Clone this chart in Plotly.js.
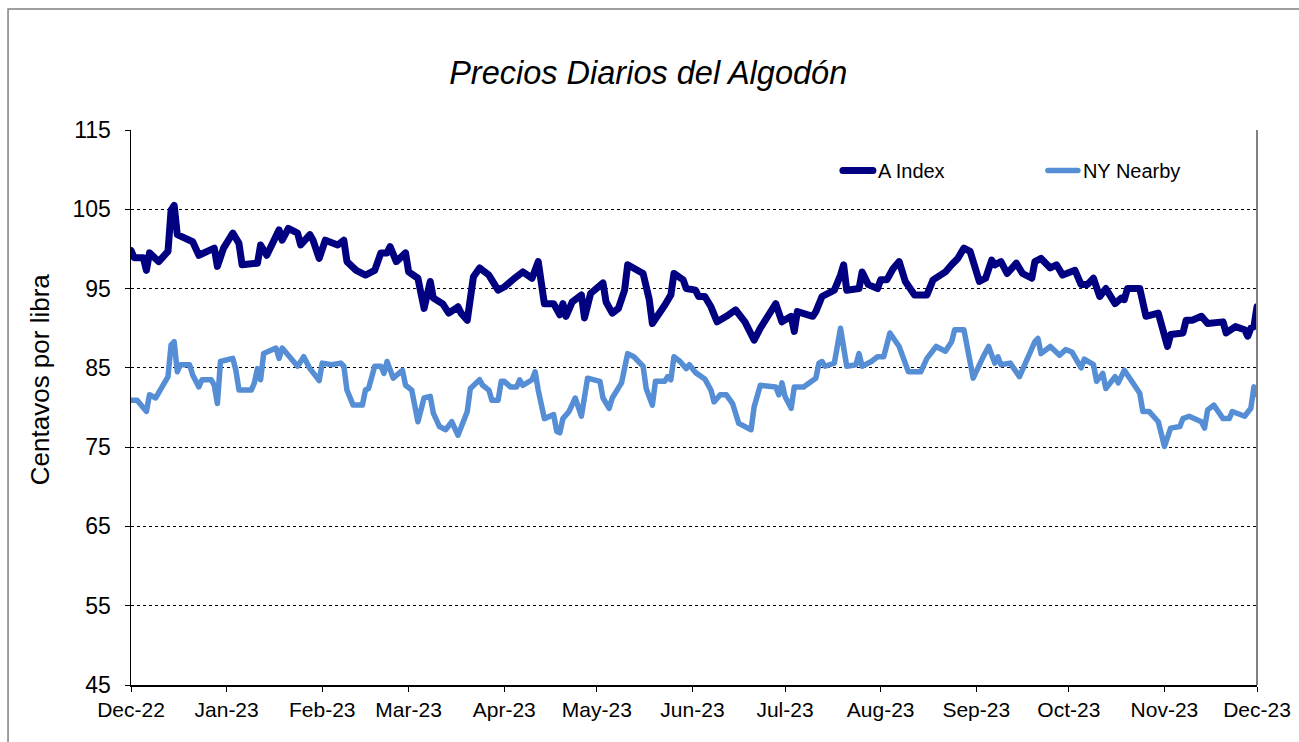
<!DOCTYPE html>
<html>
<head>
<meta charset="utf-8">
<script src="https://cdn.plot.ly/plotly-3.0.1.min.js"></script>
<style>
  html, body { margin: 0; padding: 0; background: #ffffff; }
  #chart { width: 1299px; height: 742px; }
  #chart path.js-line { stroke-linejoin: round !important; stroke-linecap: round !important; }
</style>
</head>
<body>
<div id="chart"></div>
<script>
// ---- Data ----
const aIndexDates = [
  "2022-12-01","2022-12-02","2022-12-05","2022-12-06","2022-12-07","2022-12-10","2022-12-13","2022-12-14","2022-12-15","2022-12-16","2022-12-21","2022-12-23","2022-12-28","2022-12-29","2022-12-31",
  "2023-01-03","2023-01-05","2023-01-06","2023-01-11","2023-01-12","2023-01-14","2023-01-18","2023-01-19","2023-01-21","2023-01-24","2023-01-25","2023-01-28","2023-01-29","2023-01-31",
  "2023-02-02","2023-02-06","2023-02-08","2023-02-09","2023-02-12","2023-02-15","2023-02-18","2023-02-20","2023-02-22","2023-02-23","2023-02-25","2023-02-28",
  "2023-03-01","2023-03-04","2023-03-06","2023-03-08","2023-03-09","2023-03-12","2023-03-14","2023-03-17","2023-03-18","2023-03-20","2023-03-22","2023-03-24","2023-03-27","2023-03-30",
  "2023-04-01","2023-04-04","2023-04-07","2023-04-10","2023-04-12","2023-04-14","2023-04-17","2023-04-19","2023-04-20","2023-04-21","2023-04-23","2023-04-26","2023-04-27","2023-04-29",
  "2023-05-03","2023-05-04","2023-05-06","2023-05-08","2023-05-10","2023-05-11","2023-05-14","2023-05-16","2023-05-18","2023-05-19","2023-05-23","2023-05-25","2023-05-26","2023-05-29","2023-05-30",
  "2023-06-02","2023-06-03","2023-06-05","2023-06-07","2023-06-09","2023-06-12","2023-06-15","2023-06-18","2023-06-21","2023-06-23","2023-06-28","2023-06-30",
  "2023-07-03","2023-07-04","2023-07-05","2023-07-10","2023-07-11","2023-07-13","2023-07-17","2023-07-19","2023-07-20","2023-07-21","2023-07-25","2023-07-26","2023-07-28","2023-07-31",
  "2023-08-01","2023-08-03","2023-08-05","2023-08-07","2023-08-09","2023-08-12","2023-08-16","2023-08-18","2023-08-22","2023-08-24","2023-08-26","2023-08-28","2023-08-30",
  "2023-09-02","2023-09-04","2023-09-06","2023-09-07","2023-09-09","2023-09-11","2023-09-14","2023-09-16","2023-09-19","2023-09-20","2023-09-22","2023-09-25","2023-09-27","2023-09-29",
  "2023-10-03","2023-10-05","2023-10-07","2023-10-09","2023-10-11","2023-10-13","2023-10-16","2023-10-18","2023-10-19","2023-10-20","2023-10-24","2023-10-26","2023-10-30",
  "2023-11-01","2023-11-02","2023-11-03","2023-11-07","2023-11-08","2023-11-10","2023-11-13","2023-11-15","2023-11-20","2023-11-21","2023-11-24","2023-11-27","2023-11-28","2023-11-29","2023-11-30",
  "2023-12-01"
];
const aIndexValues = [
  99.8,98.9,98.9,97.3,99.5,98.4,99.7,104.9,105.5,101.8,100.9,99.2,100.1,97.8,100.1,
  102.0,100.7,98.0,98.2,100.5,99.2,102.4,101.1,102.6,102.0,100.5,101.8,101.1,98.8,
  101.1,100.5,101.1,98.4,97.3,96.7,97.3,99.5,99.5,100.3,98.4,99.5,
  97.1,96.3,92.5,95.9,93.8,93.1,91.9,92.7,91.9,91.0,96.5,97.6,96.7,94.8,
  95.2,96.2,97.1,96.3,98.4,93.1,93.1,91.7,93.1,91.5,93.3,94.2,91.3,94.4,
  95.7,93.3,91.9,92.5,94.8,98.0,97.3,96.9,93.6,90.6,92.9,94.2,96.9,96.1,95.0,
  94.8,94.0,94.0,92.7,90.8,91.5,92.3,90.8,88.5,90.0,93.1,90.8,
  91.5,89.6,92.1,91.5,92.1,94.0,94.8,96.7,98.0,94.8,95.0,97.1,95.5,95.0,
  96.1,96.1,97.5,98.4,95.9,94.2,94.2,96.1,97.1,98.0,98.8,100.1,99.7,
  95.9,96.3,98.6,98.0,98.4,96.9,98.2,96.9,96.3,98.4,98.8,97.6,98.0,96.7,
  97.3,95.5,95.5,96.3,94.0,95.0,93.1,93.8,93.6,95.0,95.0,91.5,91.9,
  89.4,87.7,89.2,89.4,91.0,91.0,91.5,90.6,90.8,89.4,90.2,89.8,89.0,90.0,90.2,
  92.7
];

const nyNearbyDates = [
  "2022-12-01","2022-12-03","2022-12-06","2022-12-07","2022-12-09","2022-12-13","2022-12-14","2022-12-15","2022-12-16","2022-12-17","2022-12-20","2022-12-21","2022-12-23","2022-12-24","2022-12-27","2022-12-28","2022-12-29","2022-12-30",
  "2023-01-03","2023-01-04","2023-01-05","2023-01-09","2023-01-10","2023-01-11","2023-01-12","2023-01-13","2023-01-17","2023-01-18","2023-01-19","2023-01-24","2023-01-25","2023-01-26","2023-01-28","2023-01-31",
  "2023-02-01","2023-02-04","2023-02-07","2023-02-08","2023-02-09","2023-02-11","2023-02-14","2023-02-15","2023-02-16","2023-02-18","2023-02-20","2023-02-21","2023-02-22","2023-02-24","2023-02-27","2023-02-28",
  "2023-03-02","2023-03-04","2023-03-06","2023-03-08","2023-03-09","2023-03-11","2023-03-13","2023-03-15","2023-03-17","2023-03-20","2023-03-21","2023-03-24","2023-03-25","2023-03-27","2023-03-28","2023-03-30","2023-03-31",
  "2023-04-01","2023-04-03","2023-04-05","2023-04-06","2023-04-07","2023-04-10","2023-04-11","2023-04-12","2023-04-14","2023-04-17","2023-04-18","2023-04-19","2023-04-20","2023-04-22","2023-04-24","2023-04-26","2023-04-28",
  "2023-05-02","2023-05-03","2023-05-05","2023-05-06","2023-05-09","2023-05-11","2023-05-13","2023-05-16","2023-05-17","2023-05-19","2023-05-20","2023-05-23","2023-05-24","2023-05-25","2023-05-26","2023-05-28","2023-05-30","2023-05-31",
  "2023-06-02","2023-06-05","2023-06-07","2023-06-08","2023-06-10","2023-06-12","2023-06-14","2023-06-15","2023-06-16","2023-06-20","2023-06-21","2023-06-23","2023-06-28","2023-06-29","2023-06-30",
  "2023-07-01","2023-07-03","2023-07-04","2023-07-07","2023-07-11","2023-07-12","2023-07-13","2023-07-14","2023-07-17","2023-07-19","2023-07-21","2023-07-24","2023-07-25","2023-07-26","2023-07-29","2023-07-31",
  "2023-08-02","2023-08-04","2023-08-07","2023-08-10","2023-08-14","2023-08-16","2023-08-19","2023-08-22","2023-08-24","2023-08-25","2023-08-28","2023-08-31",
  "2023-09-03","2023-09-05","2023-09-07","2023-09-08","2023-09-09","2023-09-12","2023-09-15","2023-09-18","2023-09-20","2023-09-21","2023-09-22","2023-09-25","2023-09-28","2023-09-30",
  "2023-10-02","2023-10-05","2023-10-06","2023-10-09","2023-10-10","2023-10-12","2023-10-13","2023-10-16","2023-10-17","2023-10-19","2023-10-22","2023-10-24","2023-10-25","2023-10-27","2023-10-30","2023-10-31",
  "2023-11-01","2023-11-03","2023-11-06","2023-11-07","2023-11-09","2023-11-13","2023-11-14","2023-11-15","2023-11-17","2023-11-20","2023-11-22","2023-11-23","2023-11-27","2023-11-29","2023-11-30",
  "2023-12-01"
];
const nyNearbyValues = [
  80.9,80.9,79.5,81.6,81.2,83.9,87.9,88.3,84.5,85.4,85.4,84.1,82.6,83.5,83.5,82.8,80.5,85.8,
  86.2,84.7,82.2,82.2,83.1,84.9,83.5,86.8,87.5,86.2,87.5,85.2,85.8,86.4,84.9,83.4,
  85.6,85.4,85.6,85.2,82.2,80.3,80.3,82.2,82.4,85.2,85.2,84.3,85.8,83.7,84.7,82.8,
  82.2,78.2,81.2,81.4,79.3,77.6,77.2,78.2,76.5,79.5,82.4,83.5,82.8,82.2,80.9,80.9,83.3,
  83.3,82.6,82.6,83.5,82.8,83.5,84.5,82.2,78.6,79.1,77.0,76.8,78.6,79.5,81.2,78.9,83.7,
  83.3,81.2,79.9,81.2,83.1,86.8,86.4,85.2,82.4,80.3,83.3,83.3,83.9,83.5,86.4,85.8,84.9,85.4,
  84.4,83.6,82.2,80.7,81.6,81.6,80.5,79.3,78.0,77.2,80.1,82.8,82.6,81.6,83.1,
  81.4,79.9,82.6,82.6,83.7,85.6,85.8,85.2,85.6,90.0,85.2,85.4,86.8,85.2,85.8,86.4,
  86.4,89.4,87.7,84.5,84.5,86.2,87.7,87.1,88.3,89.8,89.8,83.7,
  86.2,87.7,85.6,86.4,85.4,85.6,83.9,86.4,88.3,88.7,86.8,87.7,86.6,87.3,
  87.0,85.0,86.1,85.4,83.3,84.3,82.4,83.9,83.1,84.7,83.1,81.8,79.5,79.5,78.2,76.8,
  75.1,77.4,77.6,78.6,78.9,78.2,77.4,79.7,80.3,78.6,78.6,79.5,78.9,79.9,82.6,
  81.6
];

const seriesNames = ["A Index", "NY Nearby"];
const yTicks = [45, 55, 65, 75, 85, 95, 105, 115];

const FONT = "Arial, 'Liberation Sans', sans-serif";

const traces = [
  {
    x: aIndexDates, y: aIndexValues, name: seriesNames[0],
    type: "scatter", mode: "lines",
    line: { color: "#000080", width: 7 }
  },
  {
    x: nyNearbyDates, y: nyNearbyValues, name: seriesNames[1],
    type: "scatter", mode: "lines",
    line: { color: "#558ED5", width: 5.5 }
  }
];

const layout = {
  width: 1299, height: 742,
  margin: { l: 131, r: 42, t: 130, b: 57, pad: 0 },
  paper_bgcolor: "#ffffff", plot_bgcolor: "#ffffff",
  font: { family: FONT, color: "#000000" },
  title: {
    text: "<i>Precios Diarios del Algodón</i>",
    font: { family: FONT, size: 32.5, color: "#000000" },
    xref: "container", x: 0.499, xanchor: "center",
    yref: "container", y: 0.902, yanchor: "middle"
  },
  showlegend: true,
  legend: {
    orientation: "h",
    x: 0.6278, xanchor: "left",
    y: 0.962, yanchor: "top",
    font: { family: FONT, size: 20, color: "#000000" },
    bgcolor: "rgba(0,0,0,0)",
    entrywidth: 160, entrywidthmode: "pixels",
    traceorder: "normal"
  },
  xaxis: {
    type: "date",
    range: ["2022-12-01", "2023-12-01"],
    tick0: "2022-12-01", dtick: "M1",
    tickformat: "%b-%y",
    ticks: "outside", ticklen: 5, tickwidth: 1, tickcolor: "#000000",
    ticklabelstandoff: 0,
    showgrid: false, zeroline: false,
    showline: true, linecolor: "#000000", linewidth: 1.5,
    tickfont: { family: FONT, size: 21, color: "#000000" },
    fixedrange: true
  },
  yaxis: {
    range: [45, 115],
    tickvals: yTicks,
    ticks: "outside", ticklen: 5, tickwidth: 1, tickcolor: "#000000",
    ticklabelstandoff: 9,
    showgrid: true, gridcolor: "#000000", gridwidth: 1, griddash: "dot",
    zeroline: false,
    showline: true, linecolor: "#000000", linewidth: 1.5,
    tickfont: { family: FONT, size: 23, color: "#000000" },
    fixedrange: true
  },
  annotations: [
    {
      text: "Centavos por libra",
      xref: "paper", yref: "paper",
      x: -0.0808, y: 0.551, xanchor: "center", yanchor: "middle",
      textangle: -90, showarrow: false,
      font: { family: FONT, size: 26, color: "#000000" }
    }
  ],
  shapes: [
    { type: "line", xref: "paper", yref: "paper", x0: 1, x1: 1, y0: 0, y1: 1,
      line: { color: "#808080", width: 2 }, layer: "above" },
    { type: "rect", xref: "paper", yref: "paper", x0: -0.1092, x1: 1.2, y0: -0.3, y1: 1.218,
      line: { color: "#808080", width: 1.5 }, fillcolor: "rgba(0,0,0,0)", layer: "below" }
  ]
};

Plotly.newPlot("chart", traces, layout, { displayModeBar: false, staticPlot: true });
</script>
</body>
</html>
